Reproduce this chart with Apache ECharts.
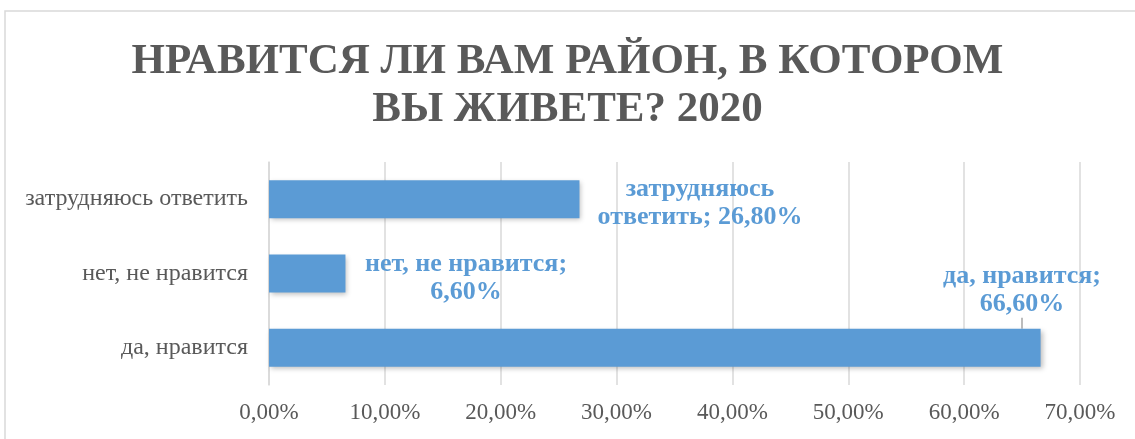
<!DOCTYPE html>
<html>
<head>
<meta charset="utf-8">
<script src="https://cdn.jsdelivr.net/npm/echarts@6/dist/echarts.min.js"></script>
<style>
  html, body { margin: 0; padding: 0; background: #fff; }
  #chart { width: 1135px; height: 439px; }
</style>
</head>
<body>
<div id="chart"></div>
<script>
// данные опроса, 2020
const categories = ['да, нравится', 'нет, не нравится', 'затрудняюсь ответить']
const values = [66.6, 6.6, 26.8]
const labelNames = ['да, нравится;', 'нет, не нравится;', 'затрудняюсь\nответить;']
const xTicks = [0, 10, 20, 30, 40, 50, 60, 70]

const serif = 'Liberation Serif'
const blue = '#5B9BD5'
const gray = '#595959'

function pct(v) {
    return v.toFixed(2).replace('.', ',') + '%'
}

// где стоит подпись относительно бара
const labelPos = [[753, -39], [197, 24], [431, 23]]

let myChart = echarts.init(document.getElementById('chart'))

let option = {
    animation: false,
    title: {
        text: 'НРАВИТСЯ ЛИ ВАМ РАЙОН, В КОТОРОМ\nВЫ ЖИВЕТЕ? 2020',
        left: 'center',
        top: 33,
        textStyle: {
            fontFamily: serif,
            fontWeight: 'bold',
            fontSize: 43,
            lineHeight: 48,
            color: gray
        }
    },
    graphic: [{
        type: 'rect',
        shape: { x: 5, y: 11, width: 1160, height: 460 },
        style: { fill: 'none', stroke: '#d9d9d9', lineWidth: 1.5 },
        silent: true
    }],
    grid: {
        left: 269,
        right: 55,
        top: 162,
        bottom: 54
    },
    xAxis: {
        type: 'value',
        min: xTicks[0],
        max: xTicks[xTicks.length - 1],
        interval: 10,
        axisLine: { show: false },
        axisTick: { show: false },
        splitLine: { lineStyle: { color: '#d9d9d9', width: 1.5 } },
        axisLabel: {
            margin: 16,
            fontFamily: serif,
            fontSize: 23,
            color: gray,
            formatter: function (v) { return pct(v) }
        }
    },
    yAxis: {
        type: 'category',
        data: categories,
        axisLine: { lineStyle: { color: '#d9d9d9', width: 1.5 } },
        axisTick: { show: false },
        axisLabel: {
            margin: 21,
            fontFamily: serif,
            fontSize: 24,
            color: gray
        }
    },
    series: [{
        type: 'bar',
        barWidth: 38,
        itemStyle: {
            color: blue,
            shadowBlur: 5,
            shadowColor: 'rgba(0,0,0,0.25)',
            shadowOffsetX: 2,
            shadowOffsetY: 2
        },
        data: values.map(function (v, i) {
            return {
                value: v,
                label: {
                    show: true,
                    position: labelPos[i],
                    align: 'center',
                    verticalAlign: 'middle',
                    fontFamily: serif,
                    fontWeight: 'bold',
                    fontSize: 26,
                    lineHeight: 28,
                    color: blue,
                    formatter: labelNames[i] + (i == 2 ? ' ' : '\n') + pct(v)
                },
                labelLine: {
                    show: i == 0,
                    lineStyle: { color: '#a6a6a6', width: 1.5 }
                }
            }
        })
    }]
}

myChart.setOption(option)
</script>
</body>
</html>
